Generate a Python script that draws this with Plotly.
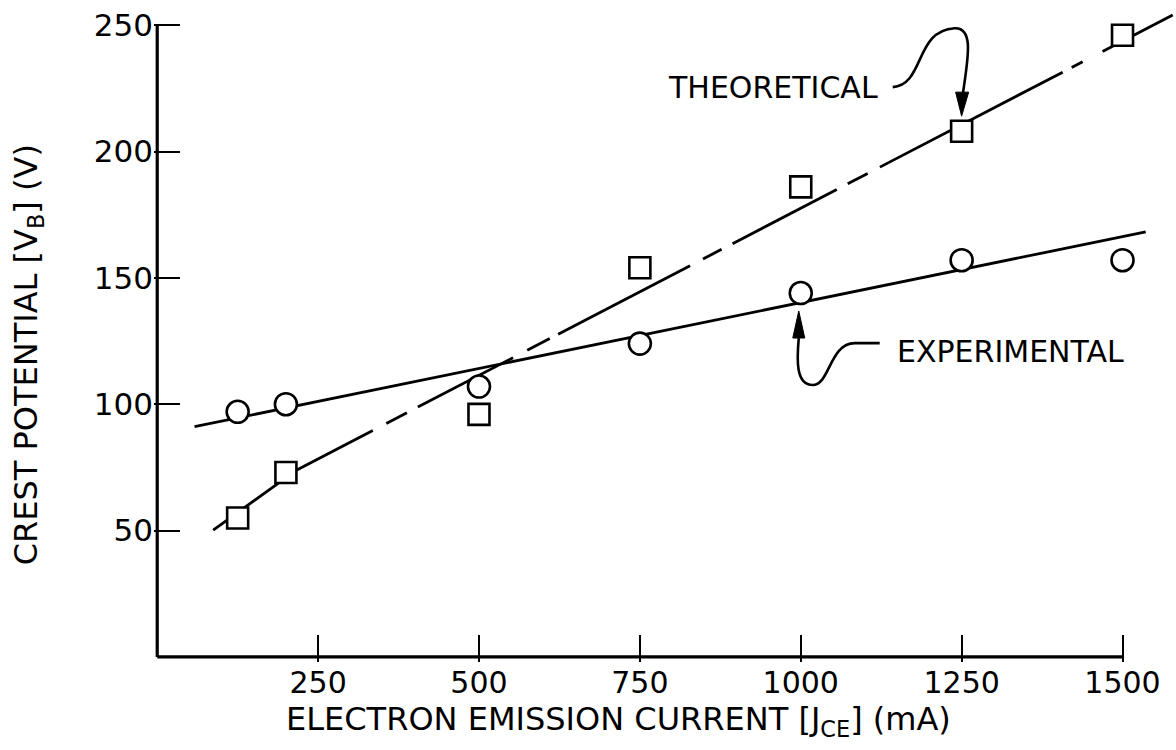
import numpy as np
import plotly.graph_objects as go

# ---------------- data ----------------
current_mA = [125, 200, 500, 750, 1000, 1250, 1500]
theoretical_V = [55, 73, 96, 154, 186, 208, 246]
experimental_V = [97, 100, 107, 124, 144, 157, 157]

# hand-drawn fitted lines
exp_fit_x = [58, 1536]
exp_fit_y = [91.1, 168.2]
theo_fit_x = [87, 217, 1578]
theo_fit_y = [50.2, 74.0, 254.0]
# drawn (inked) pieces of the long-dash theoretical line, in mA
theo_pieces = [(87, 335), (356, 388), (405, 553), (575, 610), (623, 828),
               (848, 877), (894, 1056), (1073, 1104), (1123, 1407),
               (1421, 1438), (1469, 1578)]

x_ticks = [250, 500, 750, 1000, 1250, 1500]
y_ticks = [50, 100, 150, 200, 250]

FONT = "DejaVu Sans"

# build the broken theoretical line
tx, ty = [], []
for a, b in theo_pieces:
    xs = [a] + [v for v in theo_fit_x if a < v < b] + [b]
    ys = list(np.interp(xs, theo_fit_x, theo_fit_y))
    tx += xs + [None]
    ty += ys + [None]

fig = go.Figure()
fig.add_trace(go.Scatter(x=exp_fit_x, y=exp_fit_y, mode="lines",
                         line=dict(color="black", width=2.8),
                         showlegend=False, hoverinfo="skip"))
fig.add_trace(go.Scatter(x=tx, y=ty, mode="lines",
                         line=dict(color="black", width=2.8),
                         showlegend=False, hoverinfo="skip", connectgaps=False))
fig.add_trace(go.Scatter(x=current_mA, y=experimental_V, mode="markers",
                         marker=dict(symbol="circle", size=22, color="white",
                                     line=dict(color="black", width=2.6)),
                         showlegend=False, name="EXPERIMENTAL"))
fig.add_trace(go.Scatter(x=current_mA, y=theoretical_V, mode="markers",
                         marker=dict(symbol="square", size=21, color="white",
                                     line=dict(color="black", width=2.6)),
                         showlegend=False, name="THEORETICAL"))

# axis lines (stop at last tick)
fig.add_shape(type="line", xref="x", yref="y", x0=0, x1=1500, y0=0, y1=0,
              line=dict(color="black", width=3.2))
fig.add_shape(type="line", xref="x", yref="y", x0=0, x1=0, y0=0, y1=250,
              line=dict(color="black", width=3.2))

# curly leader for THEORETICAL
fig.add_shape(type="path", xref="x", yref="y",
              path="M 1142.9,225.5 C 1192.5,226.3 1177.0,248.0 1239.1,248.8 "
                   "C 1270.2,249.2 1259.3,236.2 1251.6,222.3",
              line=dict(color="black", width=2.6))
fig.add_shape(type="path", xref="x", yref="y",
              path="M 1240.7,223.5 L 1260.9,223.5 L 1250.0,214.0 Z",
              fillcolor="black", line=dict(color="black", width=1))
# curly leader for EXPERIMENTAL
fig.add_shape(type="path", xref="x", yref="y",
              path="M 1122.7,124.2 L 1083.9,124.2 C 1045.0,124.2 1045.0,107.6 1018.6,107.6 "
                   "C 992.2,107.6 993.8,117.5 996.9,126.2",
              line=dict(color="black", width=2.6))
fig.add_shape(type="path", xref="x", yref="y",
              path="M 987.6,126.2 L 1006.2,126.2 L 996.9,136.9 Z",
              fillcolor="black", line=dict(color="black", width=1))

fig.add_annotation(x=1122.7, y=225.5, xref="x", yref="y", text="THEORETICAL",
                   showarrow=False, xanchor="right", yanchor="middle",
                   font=dict(family=FONT, size=30, color="black"))
fig.add_annotation(x=1146, y=121, xref="x", yref="y", text="EXPERIMENTAL",
                   showarrow=False, xanchor="left", yanchor="middle",
                   font=dict(family=FONT, size=30, color="black"))

# axis titles
fig.add_annotation(x=619, y=721, xref="paper", yref="paper",
                   text="ELECTRON EMISSION CURRENT [J<sub>CE</sub>] (mA)",
                   showarrow=False, xanchor="center", yanchor="middle",
                   font=dict(family=FONT, size=32, color="black"))
fig.add_annotation(x=28, y=355, xref="paper", yref="paper",
                   text="CREST POTENTIAL [V<sub>B</sub>] (V)", textangle=-90,
                   showarrow=False, xanchor="center", yanchor="middle",
                   font=dict(family=FONT, size=32, color="black"))

L, R, T, B = 153.8, 1.5, 10, 88
W, H = 1176, 750
pw, ph = W - L - R, H - T - B
# convert the two axis-title pixel anchors to paper units
for ann in fig.layout.annotations[-2:]:
    ann.x = (ann.x - L) / pw
    ann.y = (H - B - ann.y) / ph

fig.update_layout(
    width=W, height=H,
    margin=dict(l=L, r=R, t=T, b=B),
    paper_bgcolor="white", plot_bgcolor="white",
    font=dict(family=FONT, size=32, color="black"),
    xaxis=dict(range=[-5, 1580], tickvals=x_ticks, ticks="inside", ticklen=27,
               tickwidth=2, tickcolor="black", showgrid=False, zeroline=False,
               showline=False, ticklabelstandoff=0,
               tickfont=dict(family=FONT, size=30, color="black")),
    yaxis=dict(range=[-2, 256], tickvals=y_ticks, ticks="inside", ticklen=26,
               tickwidth=2, tickcolor="black", showgrid=False, zeroline=False,
               showline=False, tickfont=dict(family=FONT, size=31, color="black")),
)

fig.write_html("out.html")
